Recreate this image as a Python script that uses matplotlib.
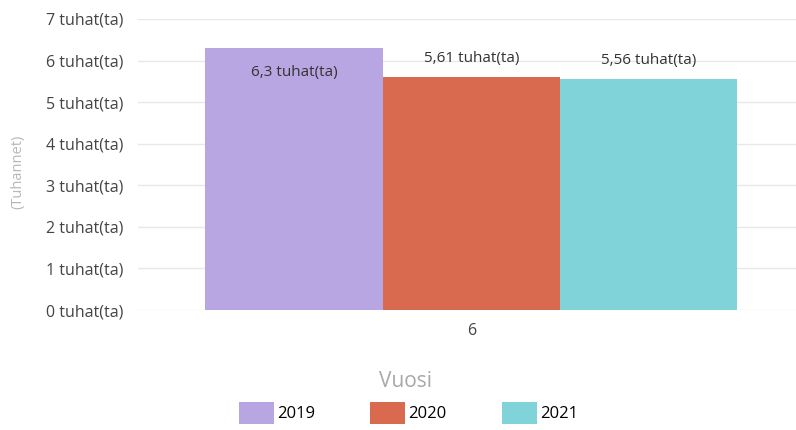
import matplotlib.pyplot as plt
from matplotlib.patches import Patch

# data
years = ['2019', '2020', '2021']
values = [6.3, 5.61, 5.56]
labels = ['6,3 tuhat(ta)', '5,61 tuhat(ta)', '5,56 tuhat(ta)']
colors = ['#B8A6E2', '#D96A50', '#80D3D8']
yticks = [0, 1, 2, 3, 4, 5, 6, 7]

plt.rcParams['font.family'] = ['Open Sans', 'DejaVu Sans']

fig = plt.figure(figsize=(7.96, 4.30), dpi=100)
ax = fig.add_axes([0.173, 0.279, 0.827, 0.677])

x = range(len(years))
ax.bar(x, values, width=1.0, color=colors)

for i, (v, lab) in enumerate(zip(values, labels)):
    if i == 0:
        ax.text(i, v - 0.58, lab, ha='center', va='center', fontsize=11, color='#333333')
    else:
        ax.text(i, v + 0.45, lab, ha='center', va='center', fontsize=11, color='#333333')

ax.set_xlim(-0.88, 2.83)
ax.set_ylim(0, 7)
ax.set_yticks(yticks)
ax.set_yticklabels([f'{t} tuhat(ta)' for t in yticks], fontsize=11.5, color='#444444')
ax.set_xticks([1])
ax.set_xticklabels(['6'], fontsize=11.5, color='#444444')
ax.tick_params(length=0, pad=9)
ax.tick_params(axis='y', pad=10)
ax.grid(axis='y', color='#e8e8e8', linewidth=1)
ax.set_axisbelow(True)
for s in ax.spines.values():
    s.set_visible(False)

fig.text(0.022, 0.6, '(Tuhannet)', rotation=90, ha='center', va='center',
         fontsize=10.5, color='#b8b8b8')
fig.text(0.51, 0.113, 'Vuosi', ha='center', va='center', fontsize=15, color='#a8a8a8')

handles = [Patch(facecolor=c, label=y) for c, y in zip(colors, years)]
fig.legend(handles=handles, loc='center', bbox_to_anchor=(0.513, 0.04), ncol=3,
           frameon=False, fontsize=12, handlelength=2.1, handleheight=1.6,
           handletextpad=0.2, columnspacing=3.3)

fig.savefig('out.png', dpi=100)
